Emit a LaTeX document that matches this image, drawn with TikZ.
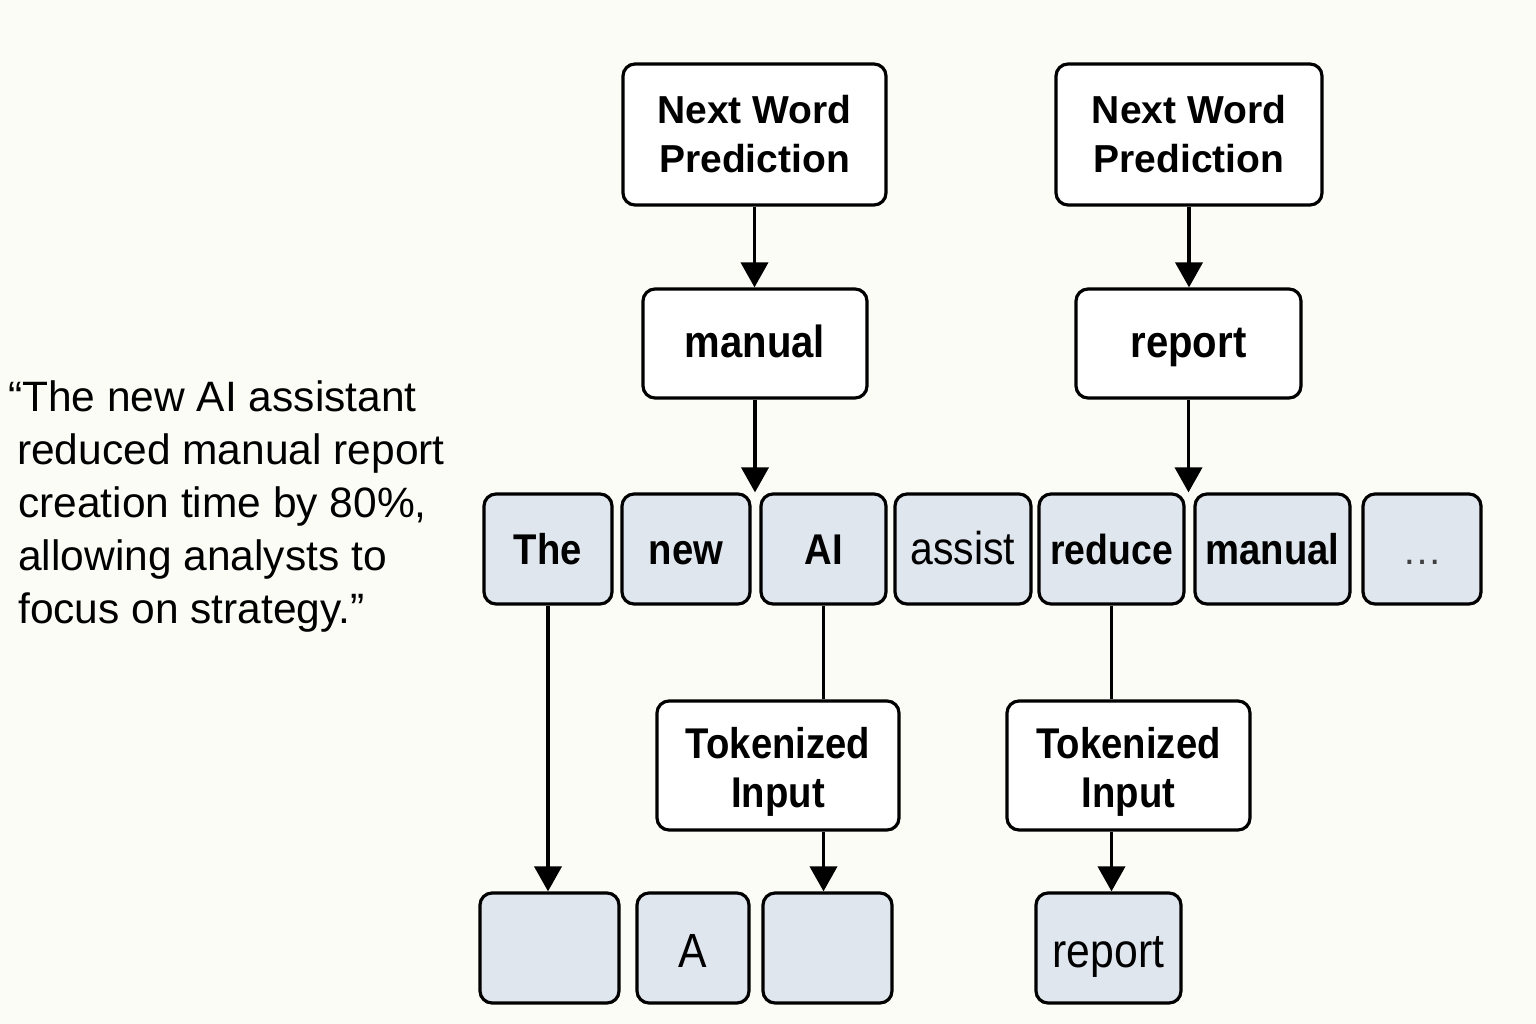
\documentclass[tikz,border=0pt]{standalone}
\usepackage{fontspec}
\setmainfont{Liberation Sans}
\newfontfamily\cfont[FakeStretch=0.89]{Liberation Sans}
\usetikzlibrary{arrows.meta}
\definecolor{bgc}{RGB}{252,252,247}
\definecolor{tokfill}{RGB}{224,230,238}
\tikzset{
  boxbase/.style={draw=black, line width=3.2pt, rounded corners=12pt, inner sep=0pt, align=center},
  wbox/.style={boxbase, fill=white, font=\bfseries\fontsize{39}{49}\selectfont},
  wone/.style={boxbase, fill=white, font=\cfont\bfseries\fontsize{45}{49}\selectfont, text height=32pt, text depth=5pt},
  tibox/.style={boxbase, fill=white, font=\cfont\bfseries\fontsize{43}{49}\selectfont},
  tbox/.style={boxbase, fill=tokfill, minimum height=110pt, text height=33pt, text depth=3pt},
  tbold/.style={tbox, font=\cfont\bfseries\fontsize{43}{47}\selectfont},
  treg/.style={tbox, font=\cfont\fontsize{46}{47}\selectfont},
  bbox/.style={tbox, font=\cfont\fontsize{48}{50}\selectfont, text height=40pt, text depth=2pt},
  arr/.style={line width=3.8pt, -{Triangle[width=27pt,length=25pt]}},
  conn/.style={line width=3.8pt},
  quote/.style={anchor=base west, inner sep=0pt, font=\fontsize{42.5}{53}\selectfont}
}
\begin{document}
\begin{tikzpicture}[x=1pt,y=-1pt]
\fill[bgc] (0,0) rectangle (1536,1024);
\useasboundingbox (0,0) rectangle (1536,1024);

% quote text
\node[quote] (q1) at (22,411) {\llap{“}The new AI assistant};
\node[quote] (q2) at (17,464) {reduced manual report};
\node[quote] (q3) at (18,517) {creation time by 80\%,};
\node[quote] (q4) at (18,570) {allowing analysts to};
\node[quote] (q5) at (18,623) {focus on strategy.”};

% top boxes
\node[wbox, minimum width=263pt, minimum height=141pt] (nwp1) at (754.5,134.5) {Next Word\\Prediction};
\node[wbox, minimum width=266pt, minimum height=141pt] (nwp2) at (1189,134.5) {Next Word\\Prediction};
\node[wone, minimum width=224pt, minimum height=109pt] (man1) at (755,343.5) {manual};
\node[wone, minimum width=225pt, minimum height=109pt] (rep1) at (1188.5,343.5) {report};

% token row
\node[tbold, minimum width=128pt] (tThe) at (548,549) {The};
\node[tbold, minimum width=128pt] (tnew) at (686,549) {new};
\node[tbold, minimum width=125pt] (tAI) at (823.5,549) {AI};
\node[treg, minimum width=136pt] (tassist) at (963,549) {assist};
\node[tbold, minimum width=145pt, font=\cfont\bfseries\fontsize{42}{47}\selectfont] (treduce) at (1111.5,549) {reduce};
\node[tbold, minimum width=155pt] (tmanual) at (1272.5,549) {manual};
\node[treg, minimum width=118pt, text=black!75, font=\fontsize{40}{47}\selectfont] (tdots) at (1422,549) {…};

% tokenized input boxes
\node[tibox, minimum width=242pt, minimum height=129pt, text height=86pt, text depth=3pt] (ti1) at (778,765.5) {Tokenized\\Input};
\node[tibox, minimum width=243pt, minimum height=129pt, text height=86pt, text depth=3pt] (ti2) at (1128.5,765.5) {Tokenized\\Input};

% bottom row
\node[bbox, minimum width=139pt] (b1) at (549.5,948) {};
\node[bbox, minimum width=112pt] (bA) at (693,948) {A};
\node[bbox, minimum width=129pt] (b3) at (827.5,948) {};
\node[bbox, minimum width=145pt] (brep) at (1108.5,948) {report};

% connectors
\draw[arr] (nwp1.south) -- (nwp1.south |- man1.north);
\draw[arr] (man1.south) -- (man1.south |- tAI.north);
\draw[arr] (nwp2.south) -- (nwp2.south |- rep1.north);
\draw[arr] (rep1.south) -- (rep1.south |- treduce.north);
\draw[arr] (tThe.south) -- (tThe.south |- b1.north);
\draw[conn] (tAI.south) -- (tAI.south |- ti1.north);
\draw[arr] (tAI.south |- ti1.south) -- (tAI.south |- b3.north);
\draw[conn] (treduce.south) -- (treduce.south |- ti2.north);
\draw[arr] (treduce.south |- ti2.south) -- (treduce.south |- brep.north);
\end{tikzpicture}
\end{document}
